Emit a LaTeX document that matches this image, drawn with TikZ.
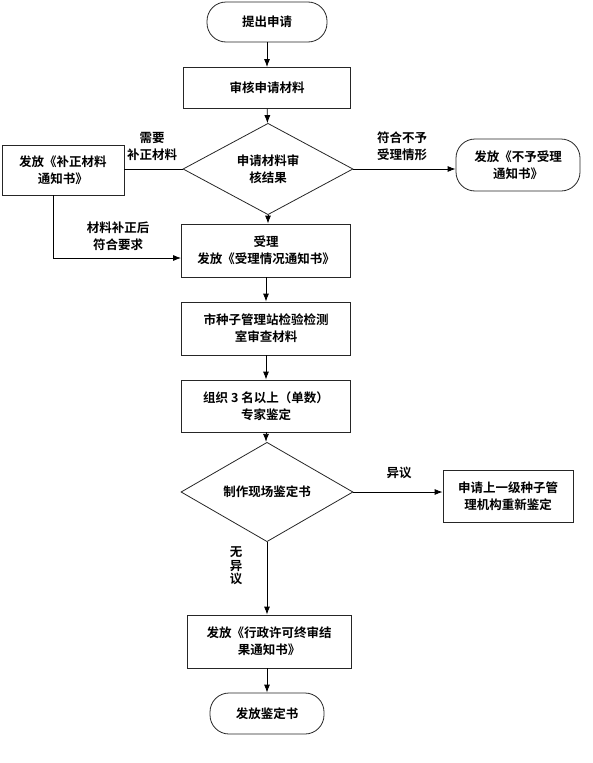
\documentclass[tikz,border=0pt]{standalone}
\usepackage{fontspec}
\newfontfamily\cjk{Noto Sans CJK SC}[BoldFont={Noto Sans CJK SC Bold}]
\usetikzlibrary{shapes.geometric,arrows.meta}
\begin{document}
\begin{tikzpicture}[x=1pt,y=-1pt,
  font=\cjk\bfseries\fontsize{12.5}{17}\selectfont,
  line width=0.8pt,
  >={Latex[length=8pt,width=6pt]},
  box/.style={draw=black!85, rectangle, align=center, inner sep=0pt},
  term/.style={draw=black!85, rectangle, rounded corners=19pt, align=center, inner sep=0pt},
  dia/.style={draw=black!85, diamond, align=center, inner sep=0pt},
  lbl/.style={align=center, inner sep=0pt}]
\useasboundingbox (0,0) rectangle (592,763);
\node[term, minimum width=120pt, minimum height=40pt] (start) at (267,22) {提出申请};
\node[box, minimum width=167pt, minimum height=41pt] (b1) at (267,88) {审核申请材料};
\node[dia, minimum width=170pt, minimum height=68pt] (d1) at (268,169) {申请材料审\\核结果};
\node[box, minimum width=122pt, minimum height=50pt] (L) at (63,170) {发放《补正材料\\通知书》};
\node[term, minimum width=124pt, minimum height=52pt] (R) at (518,165) {发放《不予受理\\通知书》};
\node[box, minimum width=169pt, minimum height=53pt] (b2) at (266,250.5) {受理\\发放《受理情况通知书》};
\node[box, minimum width=169pt, minimum height=53pt] (b3) at (266,328.5) {市种子管理站检验检测\\室审查材料};
\node[box, minimum width=169pt, minimum height=52pt] (b4) at (266,406) {组织 3 名以上（单数）\\专家鉴定};
\node[dia, minimum width=172pt, minimum height=68pt] (d2) at (267,492) {制作现场鉴定书};
\node[box, minimum width=130pt, minimum height=52pt] (R2) at (508,496) {申请上一级种子管\\理机构重新鉴定};
\node[box, minimum width=164pt, minimum height=53pt] (b5) at (269,641.5) {发放《行政许可终审结\\果通知书》};
\node[term, minimum width=114pt, minimum height=41pt] (end) at (267,713.5) {发放鉴定书};
\node[lbl] (t1) at (152,146) {需要\\补正材料};
\node[lbl] (t2) at (402,146) {符合不予\\受理情形};
\node[lbl] (t3) at (118,236) {材料补正后\\符合要求};
\node[lbl] (t4) at (399,473) {异议};
\node[lbl, font=\cjk\bfseries\fontsize{12.5}{13.5}\selectfont] (t5) at (236,566) {无\\异\\议};
\coordinate (c1) at (53,258);
\draw[->] (start) -- (b1);
\draw[->] (b1) -- (d1);
\draw[->] (d1) -- (d1.south |- b2.north);
\draw[->] (b2.south) -- (b2.south |- b3.north);
\draw[->] (b3) -- (b4);
\draw[->] (b4) -- (b4.south |- d2.north);
\draw[->] (d2.south) -- (d2.south |- b5.north);
\draw[->] (d2.south |- b5.south) -- (d2.south |- end.north);
\draw[->] (d1.east) -- (d1.east -| R.west);
\draw (d1.west) -- (d1.west -| L.east);
\draw[->] (L.south -| c1) -- (c1) -- (c1 -| b2.west);
\draw[->] (d2.east) -- (d2.east -| R2.west);
\end{tikzpicture}
\end{document}
